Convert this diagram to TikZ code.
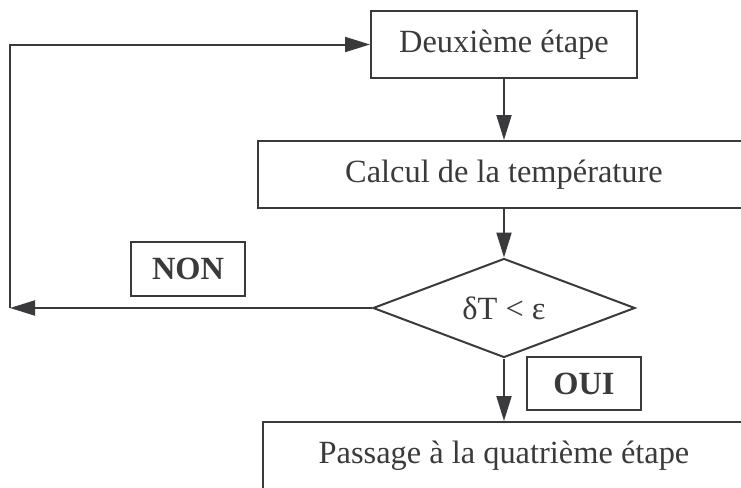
\documentclass[tikz,border=0pt]{standalone}
\usepackage{fontspec}
\setmainfont{Liberation Serif}
\usetikzlibrary{shapes.geometric, arrows.meta}
\definecolor{trait}{HTML}{3A3A3C}

\begin{document}
\begin{tikzpicture}[x=0.5pt, y=-0.5pt, line width=1pt, draw=trait, text=trait,
	font=\fontsize{16.2}{19}\selectfont,
	etape/.style={draw, rectangle, minimum height=33.5pt, inner sep=0pt},
	test/.style={draw, diamond, aspect=2.6, minimum width=131pt, minimum height=49.5pt, inner sep=0pt},
	choix/.style={draw, rectangle, minimum width=57pt, minimum height=27pt, inner sep=0pt, font=\fontsize{16.2}{19}\selectfont\bfseries},
	fleche/.style={-{Triangle[length=12.5pt, width=7.5pt]}}]
			\useasboundingbox (0,0) rectangle (741,488);
			\clip (0,0) rectangle (741,488);
			\node[etape, minimum width=133pt] (deux) at (504,44.5) {Deuxième étape};
			\node[etape, minimum width=246pt] (calc) at (504,174.5) {Calcul de la température};
			\node[test] (dec) at (504,308) {δT < ε};
			\node[etape, minimum width=241pt] (pass) at (504,455.5) {Passage à la quatrième étape};
			\node[choix] (non) at (188,269) {NON};
			\node[choix, minimum height=26.5pt] (oui) at (584,383.5) {OUI};
			\coordinate (coin) at (10,308);
			\draw[fleche] (deux) -- (calc);
			\draw[fleche] (calc) -- (dec);
			\draw[fleche] (dec) -- (pass);
			\draw[fleche] (dec.west) -- (coin);
			\draw[fleche] (coin) |- (deux.west);
			\end{tikzpicture}
\end{document}
